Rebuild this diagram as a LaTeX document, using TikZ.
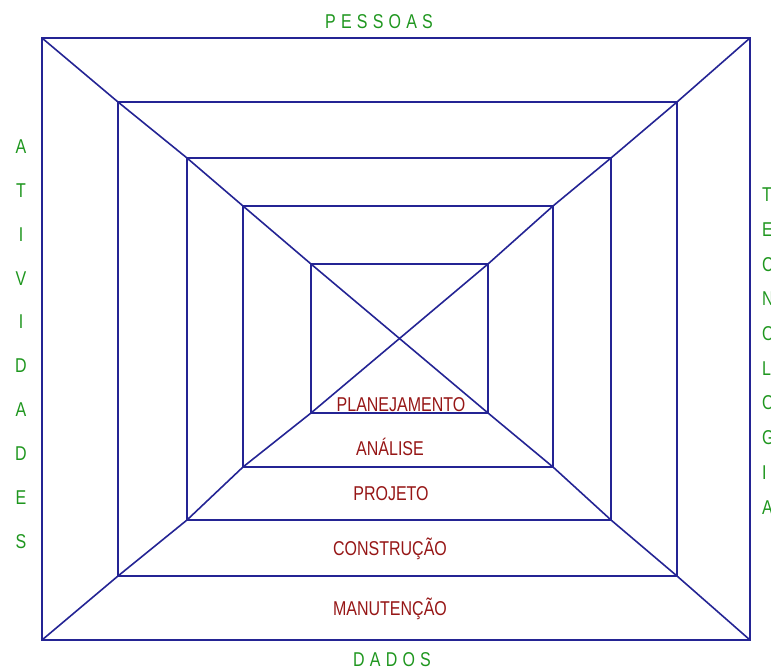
\documentclass[tikz,border=0pt]{standalone}
\usepackage{fontspec}
\setmainfont[FakeStretch=0.8]{Liberation Sans}
\newfontfamily\spacedfont[FakeStretch=0.8,LetterSpace=26]{Liberation Sans}
\definecolor{linec}{RGB}{36,36,148}
\definecolor{greenc}{RGB}{30,150,30}
\definecolor{redc}{RGB}{150,22,22}
\begin{document}
\begin{tikzpicture}[x=1pt,y=-1pt,
  frame/.style={draw=linec,line width=2pt},
  diag/.style={draw=linec,line width=1.6pt,line join=miter},
  stage/.style={text=redc,font=\fontsize{20}{20}\selectfont,anchor=base,inner sep=0pt},
  dim/.style={text=greenc,font=\fontsize{20}{20}\selectfont,anchor=base,inner sep=0pt},
  dimspaced/.style={text=greenc,font=\spacedfont\fontsize{20}{20}\selectfont,anchor=base,inner sep=0pt}]
\useasboundingbox (0,0) rectangle (771,671);
\foreach \i/\l/\t/\r/\b in {1/42/38/750/640, 2/118/102/677/576, 3/187/158/611/520, 4/243/206/553/467, 5/311/264/488/413} {
  \coordinate (tl\i) at (\l,\t);
  \coordinate (tr\i) at (\r,\t);
  \coordinate (bl\i) at (\l,\b);
  \coordinate (br\i) at (\r,\b);
}
\draw[diag] (tl1) -- (tl2) -- (tl3) -- (tl4) -- (tl5) -- (br5) -- (br4) -- (br3) -- (br2) -- (br1);
\draw[diag] (tr1) -- (tr2) -- (tr3) -- (tr4) -- (tr5) -- (bl5) -- (bl4) -- (bl3) -- (bl2) -- (bl1);
\foreach \i in {1,...,5} { \draw[frame] (tl\i) rectangle (br\i); }
\node[stage] (planejamento) at (401,411.5) {PLANEJAMENTO};
\node[stage] (analise) at (390,455) {ANÁLISE};
\node[stage] (projeto) at (391,500.5) {PROJETO};
\node[stage] (construcao) at (390,555.5) {CONSTRUÇÃO};
\node[stage] (manutencao) at (390,615) {MANUTENÇÃO};
\node[dimspaced] (pessoas) at (379,28.3) {PESSOAS};
\node[dimspaced] (dados) at (392,666.5) {DADOS};
\foreach \c [count=\k from 0] in {A,T,I,V,I,D,A,D,E,S}
  \node[dim] (ativ\k) at (21,153.3+43.9*\k) {\c};
\foreach \c [count=\k from 0] in {T,E,C,N,O,L,O,G,I,A}
  \node[dim,anchor=base west] (tec\k) at (762,201.7+34.7*\k) {\c};
\end{tikzpicture}
\end{document}
